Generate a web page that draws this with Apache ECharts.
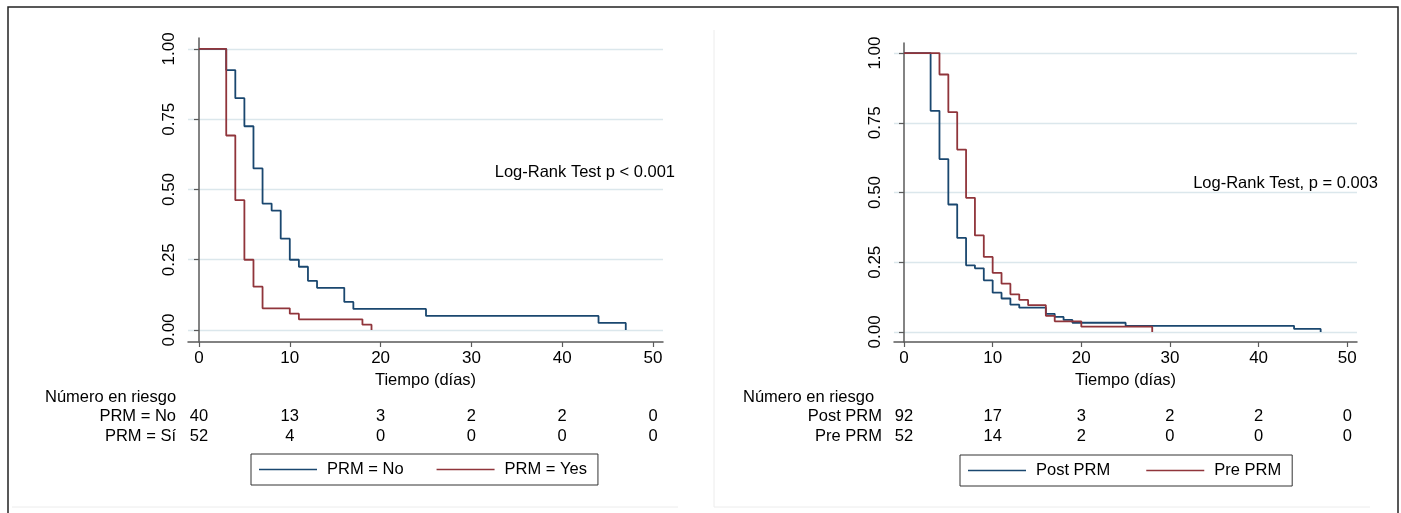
<!DOCTYPE html>
<html>
<head>
<meta charset="utf-8">
<script src="https://cdn.jsdelivr.net/npm/echarts@6/dist/echarts.min.js"></script>
<style>
  html, body { margin: 0; padding: 0; background: #fff; }
  #chart { width: 1401px; height: 513px; }
</style>
</head>
<body>
<div id="chart"></div>
<script>
// Kaplan-Meier, PRM = No / PRM = Yes (panel izquierdo)
var timeNoL = [0, 3, 4, 5, 6, 7, 8, 9, 10, 11, 12, 13, 16, 17, 25, 44, 47];
var survNoL = [1, 0.925, 0.825, 0.725, 0.575, 0.45, 0.425, 0.325, 0.25, 0.225, 0.175, 0.15, 0.10, 0.075, 0.05, 0.025, 0];
var timeYesL = [0, 3, 4, 5, 6, 7, 10, 11, 18, 19];
var survYesL = [1, 0.692, 0.462, 0.25, 0.154, 0.077, 0.058, 0.038, 0.019, 0];

// Post PRM / Pre PRM (panel derecho)
var timePostR = [0, 3, 4, 5, 6, 7, 8, 9, 10, 11, 12, 13, 16, 17, 18, 19, 25, 44, 47];
var survPostR = [1, 0.793, 0.620, 0.457, 0.337, 0.239, 0.228, 0.185, 0.141, 0.120, 0.098, 0.087, 0.065, 0.054, 0.043, 0.033, 0.022, 0.011, 0];
var timePreR = [0, 4, 5, 6, 7, 8, 9, 10, 11, 12, 13, 14, 16, 17, 20, 28];
var survPreR = [1, 0.923, 0.788, 0.654, 0.481, 0.346, 0.269, 0.212, 0.173, 0.135, 0.115, 0.096, 0.058, 0.038, 0.019, 0];

// numero en riesgo
var riskTimes = [0, 10, 20, 30, 40, 50];
var riskNoL = [40, 13, 3, 2, 2, 0];
var riskSiL = [52, 4, 0, 0, 0, 0];
var riskPostR = [92, 17, 3, 2, 2, 0];
var riskPreR = [52, 14, 2, 0, 0, 0];
var rowsL = ['PRM = No', 'PRM = Sí'];
var rowsR = ['Post PRM', 'Pre PRM'];

var xTicks = [0, 10, 20, 30, 40, 50];
var yTicks = [0, 0.25, 0.5, 0.75, 1];

var BLUE = '#1a476f';
var RED = '#90353b';
var FONT = 'Liberation Sans';
var FS = 16.5;

function pairs(t, s) {
    var out = [];
    for (var i = 0; i < t.length; i++) out.push([t[i], s[i]]);
    return out;
}
function riskData(rows) {
    var out = [];
    for (var r = 0; r < rows.length; r++) {
        for (var i = 0; i < riskTimes.length; i++) out.push([riskTimes[i], r, rows[r][i]]);
    }
    return out;
}

function mainX(idx, min, max) {
    return {
        type: 'value', gridIndex: idx, min: min, max: max,
        name: 'Tiempo (días)', nameLocation: 'middle', nameGap: 28,
        nameTextStyle: { color: '#000', fontFamily: FONT, fontSize: FS },
        axisLine: { onZero: false, lineStyle: { color: '#5a5a5a', width: 1.5 } },
        axisTick: { show: true, length: 5, customValues: xTicks, lineStyle: { color: '#5a5a5a', width: 1.2 } },
        axisLabel: { customValues: xTicks, margin: 8, color: '#000', fontFamily: FONT, fontSize: 17 },
        splitLine: { show: false }
    };
}
function mainY(idx, min, max) {
    return {
        type: 'value', gridIndex: idx, min: min, max: max,
        axisLine: { show: true, lineStyle: { color: '#5a5a5a', width: 1.5 } },
        axisTick: { show: true, length: 5, customValues: yTicks, lineStyle: { color: '#5a5a5a', width: 1.2 } },
        axisLabel: {
            customValues: yTicks, rotate: 90, margin: 10, color: '#000', fontFamily: FONT, fontSize: 17,
            formatter: function (v) { return v.toFixed(2); }
        },
        splitLine: { show: true, lineStyle: { color: '#dbe7ec', width: 1.3 } }
    };
}
function riskX(idx, min, max) {
    return { type: 'value', gridIndex: idx, min: min, max: max, show: false };
}
function riskY(idx, rows) {
    return {
        type: 'category', gridIndex: idx, data: rows, inverse: true,
        axisLine: { show: false }, axisTick: { show: false }, splitLine: { show: false },
        axisLabel: { interval: 0, margin: 12, color: '#000', fontFamily: FONT, fontSize: FS }
    };
}
function kmLine(name, color, xi, data) {
    return {
        name: name, type: 'line', step: 'end', xAxisIndex: xi, yAxisIndex: xi,
        data: data, showSymbol: false, symbol: 'none', silent: true, animation: false,
        lineStyle: { color: color, width: 1.8 }, itemStyle: { color: color }
    };
}
function riskSeries(xi, rows) {
    return {
        type: 'scatter', xAxisIndex: xi, yAxisIndex: xi, data: riskData(rows),
        symbolSize: 0, silent: true, animation: false,
        itemStyle: { opacity: 1 },
        label: {
            show: true, position: 'inside', color: '#000', fontFamily: FONT, fontSize: FS,
            formatter: function (p) { return String(p.value[2]); }
        }
    };
}
function legendBox(left, top, names, gap) {
    return {
        data: names, left: left, top: top, orient: 'horizontal',
        icon: 'rect', itemWidth: 58, itemHeight: 1.6, itemGap: gap,
        padding: [7, 11, 7, 8], borderColor: '#333', borderWidth: 1, borderRadius: 0,
        selectedMode: false,
        textStyle: { color: '#000', fontFamily: FONT, fontSize: FS, lineHeight: 17, padding: [0, 0, 0, 5] }
    };
}

var chart = echarts.init(document.getElementById('chart'));
var option = {
    backgroundColor: '#fff',
    animation: false,
    textStyle: { fontFamily: FONT },
    grid: [
        { left: 188, top: 38, width: 475, height: 304 },
        { left: 894, top: 43, width: 463, height: 299 },
        { left: 188, top: 406, width: 475, height: 40 },
        { left: 894, top: 406, width: 463, height: 40 }
    ],
    xAxis: [
        mainX(0, -1.21, 51.1),
        mainX(1, -1.13, 51.1),
        riskX(2, -1.21, 51.1),
        riskX(3, -1.13, 51.1)
    ],
    yAxis: [
        mainY(0, -0.0427, 1.039),
        mainY(1, -0.036, 1.036),
        riskY(2, rowsL),
        riskY(3, rowsR)
    ],
    legend: [
        legendBox(251, 454, ['PRM = No', 'PRM = Yes'], 33),
        legendBox(960, 455, ['Post PRM', 'Pre PRM'], 36)
    ],
    series: [
        kmLine('PRM = No', BLUE, 0, pairs(timeNoL, survNoL)),
        kmLine('PRM = Yes', RED, 0, pairs(timeYesL, survYesL)),
        kmLine('Post PRM', BLUE, 1, pairs(timePostR, survPostR)),
        kmLine('Pre PRM', RED, 1, pairs(timePreR, survPreR)),
        riskSeries(2, [riskNoL, riskSiL]),
        riskSeries(3, [riskPostR, riskPreR])
    ],
    graphic: [
        { type: 'rect', shape: { x: 8, y: 7, width: 1390, height: 520 }, style: { fill: 'none', stroke: '#222', lineWidth: 1.5 }, silent: true },
        { type: 'line', shape: { x1: 714, y1: 30, x2: 714, y2: 507 }, style: { stroke: '#ececec', lineWidth: 1 }, silent: true },
        { type: 'line', shape: { x1: 12, y1: 507, x2: 678, y2: 507 }, style: { stroke: '#ececec', lineWidth: 1 }, silent: true },
        { type: 'line', shape: { x1: 714, y1: 507, x2: 1370, y2: 507 }, style: { stroke: '#ececec', lineWidth: 1 }, silent: true },
        { type: 'text', left: 45, top: 389, style: { text: 'Número en riesgo', fill: '#000', font: FS + 'px "' + FONT + '"' } },
        { type: 'text', left: 743, top: 389, style: { text: 'Número en riesgo', fill: '#000', font: FS + 'px "' + FONT + '"' } },
        { type: 'text', right: 726, top: 164, style: { text: 'Log-Rank Test p < 0.001', fill: '#000', font: FS + 'px "' + FONT + '"' } },
        { type: 'text', right: 23, top: 175, style: { text: 'Log-Rank Test, p = 0.003', fill: '#000', font: FS + 'px "' + FONT + '"' } }
    ]
};
chart.setOption(option);
</script>
</body>
</html>
